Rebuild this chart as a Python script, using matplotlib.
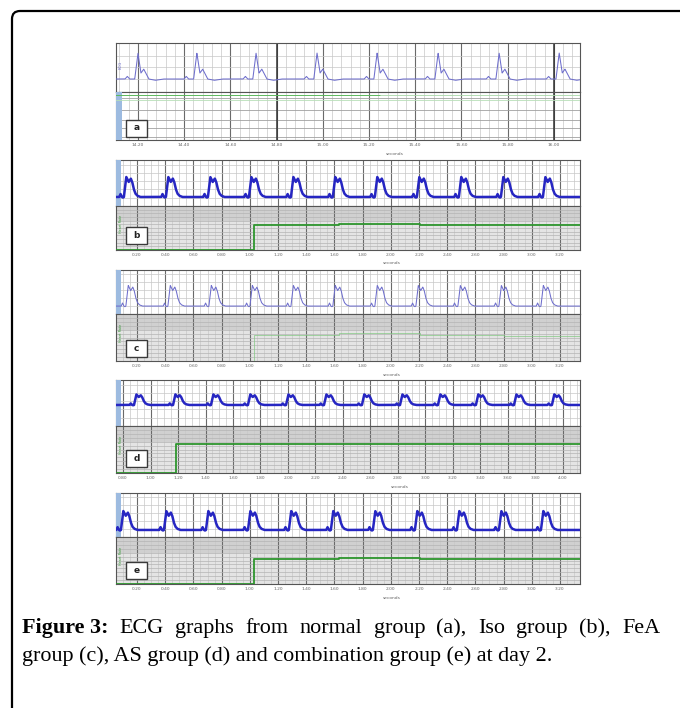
import numpy as np
import matplotlib
matplotlib.use("Agg")
from matplotlib import pyplot as plt
from matplotlib.patches import Rectangle, PathPatch
from matplotlib.path import Path

W, H = 680, 708

sharp_t = [-0.056, -0.046, -0.036, -0.014, 0.000, 0.013, 0.025, 0.047, 0.075, 0.110]
sharp_v = [0.0, 0.10, 0.0, 0.0, 1.0, 0.23, 0.38, 0.0, -0.05, 0.0]
m_t = [-0.062, -0.053, -0.043, -0.036, -0.029, -0.012, 0.005, 0.020, 0.030, 0.041, 0.053, 0.067, 0.088]
m_v = [0.0, 0.15, 0.0, -0.03, 0.0, 1.0, 0.75, 0.92, 0.75, 0.40, 0.17, 0.06, 0.0]

# (a) normal group
a_ticks = [14.2, 14.4, 14.6, 14.8, 15.0, 15.2, 15.4, 15.6, 15.8, 16.0]
a_labels = ["14.20", "14.40", "14.60", "14.80", "15.00", "15.20", "15.40", "15.60", "15.80", "16.00"]
a_xlim = (14.105, 16.113)
a_beats = [14.200, 14.455, 14.711, 14.975, 15.235, 15.499, 15.763, 16.023]

# (b) Iso group
b_ticks = [0.2, 0.4, 0.6, 0.8, 1.0, 1.2, 1.4, 1.6, 1.8, 2.0, 2.2, 2.4, 2.6, 2.8, 3.0, 3.2]
b_labels = ["0.20", "0.40", "0.60", "0.80", "1.00", "1.20", "1.40", "1.60", "1.80", "2.00",
            "2.20", "2.40", "2.60", "2.80", "3.00", "3.20"]
b_xlim = (0.051, 3.342)
b_beats = [0.136, 0.434, 0.732, 1.023, 1.321, 1.618, 1.916, 2.214, 2.512, 2.810, 3.108]
b_mark_t = [0.051, 1.03, 1.63, 2.21, 3.342]
b_mark_v = [0.0, 0.57, 0.60, 0.57, 0.57]

# (c) FeA group
c_beats = [0.150, 0.448, 0.739, 1.030, 1.321, 1.618, 1.916, 2.207, 2.505, 2.796, 3.094]
c_mark_t = [0.051, 1.03, 1.63, 2.21, 2.80, 3.342]
c_mark_v = [0.0, 0.55, 0.60, 0.55, 0.53, 0.53]

# (d) AS group
d_ticks = [0.8, 1.0, 1.2, 1.4, 1.6, 1.8, 2.0, 2.2, 2.4, 2.6, 2.8, 3.0, 3.2, 3.4, 3.6, 3.8, 4.0]
d_labels = ["0.80", "1.00", "1.20", "1.40", "1.60", "1.80", "2.00", "2.20", "2.40", "2.60",
            "2.80", "3.00", "3.20", "3.40", "3.60", "3.80", "4.00"]
d_xlim = (0.749, 4.124)
d_beats = [0.909, 1.193, 1.469, 1.738, 2.015, 2.291, 2.567, 2.844, 3.120, 3.396, 3.673, 3.949]
d_mark_t = [0.749, 1.185, 4.124]
d_mark_v = [0.0, 0.62, 0.62]

# (e) combination group
e_beats = [0.115, 0.420, 0.718, 1.016, 1.306, 1.604, 1.902, 2.200, 2.498, 2.796, 3.094]
e_mark_t = [0.051, 1.03, 1.63, 2.21, 3.342]
e_mark_v = [0.0, 0.53, 0.56, 0.53, 0.53]

caption1 = ["Figure 3:", "ECG", "graphs", "from", "normal", "group", "(a),", "Iso", "group", "(b),", "FeA"]
caption2 = "group (c), AS group (d) and combination group (e) at day 2."

# layout in pixels: top, divider, bottom
panels = [
    dict(name="a", top=43, mid=92, bot=140, ticks=a_ticks, labels=a_labels, xlim=a_xlim,
         beats=a_beats, shape=(sharp_t, sharp_v), base=0.265, amp=0.53, bold=False,
         mark=None, minor=5, sec_x=395),
    dict(name="b", top=160, mid=206, bot=250, ticks=b_ticks, labels=b_labels, xlim=b_xlim,
         beats=b_beats, shape=(m_t, m_v), base=0.196, amp=0.435, bold=True,
         mark=(b_mark_t, b_mark_v), minor=4, sec_x=392),
    dict(name="c", top=270, mid=314, bot=361, ticks=b_ticks, labels=b_labels, xlim=b_xlim,
         beats=c_beats, shape=(m_t, m_v), base=0.18, amp=0.47, bold=False,
         mark=(c_mark_t, c_mark_v), minor=4, sec_x=392),
    dict(name="d", top=380, mid=426, bot=473, ticks=d_ticks, labels=d_labels, xlim=d_xlim,
         beats=d_beats, shape=(m_t, m_v), base=0.457, amp=0.23, bold=True,
         mark=(d_mark_t, d_mark_v), minor=4, sec_x=400),
    dict(name="e", top=493, mid=537, bot=584, ticks=b_ticks, labels=b_labels, xlim=b_xlim,
         beats=e_beats, shape=(m_t, m_v), base=0.16, amp=0.43, bold=True,
         mark=(e_mark_t, e_mark_v), minor=4, sec_x=392),
]

L, R = 116, 580


def rect(top, bot):
    return [L / W, 1 - bot / H, (R - L) / W, (bot - top) / H]


fig = plt.figure(figsize=(W / 100, H / 100), dpi=100)

bg = fig.add_axes([0, 0, 1, 1], zorder=-1)
bg.set_xlim(0, W)
bg.set_ylim(H, 0)
bg.axis("off")

# frame round the figure, open at right and bottom
verts = [(12, 730), (12, 19), (12, 11), (20, 11), (700, 11)]
codes = [Path.MOVETO, Path.LINETO, Path.CURVE3, Path.CURVE3, Path.LINETO]
bg.add_patch(PathPatch(Path(verts, codes), fill=False, lw=1.6, ec="black", clip_on=False))

for p in panels:
    x0, x1 = p["xlim"]
    ax_e = fig.add_axes(rect(p["top"], p["mid"]))
    ax_m = fig.add_axes(rect(p["mid"], p["bot"]))
    for ax in (ax_e, ax_m):
        ax.set_xlim(x0, x1)
        ax.set_ylim(0, 1)
        ax.set_yticks([])
        for s in ax.spines.values():
            s.set_color("#555555")
            s.set_linewidth(0.8)
    ax_e.set_xticks([])

    # grid
    minor_step = 0.2 / p["minor"]
    mx = np.arange(p["ticks"][0] - 2, x1, minor_step)
    mx = mx[(mx > x0) & (mx < x1)]
    for ax in (ax_e, ax_m):
        for xv in mx:
            ax.axvline(xv, color="#c8c8c8", lw=0.5, zorder=1)
        for xv in p["ticks"]:
            ax.axvline(xv, color="#6a6a6a", lw=0.8, zorder=1)

    if p["name"] == "a":
        for yv in [0.265, 0.51, 0.735]:
            ax_e.axhline(yv, color="#c8c8c8", lw=0.5, zorder=1)
        for yv in [0.0625, 0.25, 0.417, 0.625, 0.875]:
            ax_m.axhline(yv, color="#a0a0a0", lw=0.6, zorder=1)
        for xv in [14.8, 16.0]:
            for ax in (ax_e, ax_m):
                ax.axvline(xv, color="#333333", lw=1.1, zorder=1)
        ax_m.add_patch(Rectangle((0, 0), 6 / (R - L), 1, transform=ax_m.transAxes,
                                 fc="#9dbbe0", ec="none", zorder=3))
        ax_e.text(0.006, 0.55, "ECG", transform=ax_e.transAxes, rotation=90,
                  fontsize=2.8, color="#6c6cc8", ha="left", va="center")
        # two faint marker channels
        ax_m.plot([x0, 15.248], [0.94, 0.94], color="#5cb85c", lw=0.7, zorder=4)
        ax_m.plot([15.248, x1], [0.94, 0.94], color="#a8d8a8", lw=0.6, zorder=4)
        ax_m.plot([x0, x1], [0.83, 0.83], color="#b8dfb8", lw=0.6, zorder=4)
    else:
        for yv in np.arange(0.18, 1.0, 0.18):
            ax_e.axhline(yv, color="#c8c8c8", lw=0.5, zorder=1)
        ax_m.set_facecolor("#e4e4e4")
        ax_m.axhspan(0.68, 1.0, color="#d0d0d0", zorder=0)
        for yv in np.arange(1 / 12, 1.0, 1 / 12):
            ax_m.axhline(yv, color="#b4b4b4", lw=0.5, zorder=1)
        ax_e.add_patch(Rectangle((0, 0), 5 / (R - L), 1, transform=ax_e.transAxes,
                                 fc="#9dbbe0", ec="none", zorder=3))
        ax_m.text(0.007, 0.6, "Heart Rate", transform=ax_m.transAxes, rotation=90,
                  fontsize=2.4, color="#3a9a3a", ha="left", va="center")
        mt, mv = p["mark"]
        if p["name"] == "c":
            ax_m.plot(mt, mv, drawstyle="steps-post", color="#7fc97f", lw=0.6, alpha=0.8, zorder=4)
        else:
            ax_m.plot(mt, mv, drawstyle="steps-post", color="#2e962e", lw=1.3, zorder=4)

    # ECG trace
    st, sv = p["shape"]
    t = np.linspace(x0, x1, 5000)
    y = np.full_like(t, p["base"])
    for tb in p["beats"]:
        y += p["amp"] * np.interp(t - tb, st, sv, left=0, right=0)
    if p["bold"]:
        ax_e.plot(t, y, color="#2626c2", lw=1.8, zorder=5)
    else:
        ax_e.plot(t, y, color="#6e6ecc", lw=0.75, zorder=5)

    # ticks
    ax_m.set_xticks(p["ticks"])
    ax_m.set_xticklabels(p["labels"], fontsize=3.2, color="#666666")
    ax_m.tick_params(axis="x", length=0, pad=2.5)
    ax_m.text((p["sec_x"] - L) / (R - L), -0.30, "seconds", transform=ax_m.transAxes,
              fontsize=3.2, color="#666666", ha="center", va="center")

    # panel letter box
    hb = p["bot"] - p["mid"]
    cy = {"a": 128, "b": 235, "c": 348, "d": 458.5, "e": 570.5}[p["name"]]
    bx = (126 - L) / (R - L)
    by = (p["bot"] - cy - 8.5) / hb
    ax_m.add_patch(Rectangle((bx, by), 21 / (R - L), 17 / hb, transform=ax_m.transAxes,
                             fc="white", ec="#3a3a3a", lw=1.0, zorder=6))
    ax_m.text(bx + 10.5 / (R - L), by + 8.5 / hb, p["name"], transform=ax_m.transAxes,
              fontsize=6.5, fontweight="bold", color="#222222", ha="center", va="center", zorder=7)

# caption
serif = ["Liberation Serif", "DejaVu Serif"]
fig.canvas.draw()
rend = fig.canvas.get_renderer()
t2 = bg.text(22, 661, caption2, fontsize=10, family=serif, va="baseline", ha="left")
w2 = t2.get_window_extent(rend).width
fs = 10 * 531 / w2
t2.set_fontsize(fs)

words = []
for i, wd in enumerate(caption1):
    words.append(bg.text(0, 633, wd, fontsize=fs, family=serif, va="baseline", ha="left",
                         fontweight="bold" if i == 0 else "normal"))
fig.canvas.draw()
widths = [tx.get_window_extent(rend).width for tx in words]
gap = (660 - 22 - sum(widths)) / (len(words) - 1)
xpos = 22
for tx, wd in zip(words, widths):
    tx.set_x(xpos)
    xpos += wd + gap

fig.savefig("out.png", dpi=100)
